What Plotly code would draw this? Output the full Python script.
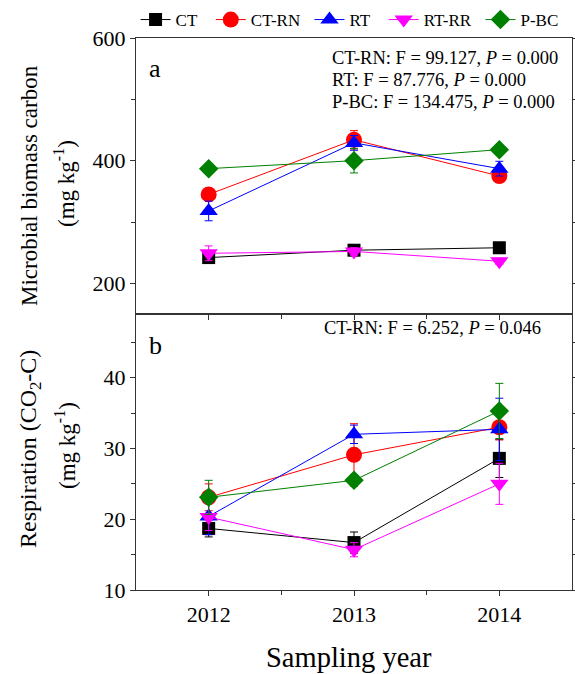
import plotly.graph_objects as go
from plotly.subplots import make_subplots

years = [2012, 2013, 2014]
series = ["CT", "CT-RN", "RT", "RT-RR", "P-BC"]
legend_pad = [2, 1, 2, 1, 0]
colors = ["#000000", "#ff0000", "#0000ff", "#ff00ff", "#008000"]
symbols = ["square", "circle", "triangle-up", "triangle-down", "diamond"]
sizes = [13, 16, 16, 16, 15]

mbc = {
    "CT": [242, 254, 258],
    "CT-RN": [345, 434, 375],
    "RT": [318, 429, 387],
    "RT-RR": [249, 252, 236],
    "P-BC": [387, 400, 418],
}
mbc_err = {
    "CT": [6, 8, 4],
    "CT-RN": [5, 15, 10],
    "RT": [16, 12, 12],
    "RT-RR": [12, 6, 5],
    "P-BC": [5, 20, 5],
}
resp = {
    "CT": [18.7, 16.7, 28.6],
    "CT-RN": [23.1, 29.1, 33.0],
    "RT": [20.4, 32.0, 32.7],
    "RT-RR": [20.3, 15.7, 25.0],
    "P-BC": [23.1, 25.5, 35.3],
}
resp_err = {
    "CT": [1.2, 1.5, 2.7],
    "CT-RN": [1.9, 4.4, 1.8],
    "RT": [2.6, 1.3, 4.4],
    "RT-RR": [1.9, 1.0, 2.9],
    "P-BC": [2.4, 0.8, 3.9],
}

FONT = "Liberation Serif, Times New Roman, serif"

fig = make_subplots(rows=2, cols=1, shared_xaxes=True, vertical_spacing=0)

for i, s in enumerate(series):
    label = s + "\u00a0" * legend_pad[i]
    for row, data, err in [(1, mbc, mbc_err), (2, resp, resp_err)]:
        fig.add_trace(go.Scatter(
            x=years, y=data[s], name=label, mode="lines+markers",
            line=dict(color=colors[i], width=1),
            marker=dict(symbol=symbols[i], size=sizes[i], color=colors[i]),
            error_y=dict(type="data", array=err[s], color=colors[i], thickness=1, width=4),
            showlegend=(row == 1), legendgroup=s,
        ), row=row, col=1)

axis_common = dict(showline=True, linecolor="#333", linewidth=1, mirror="allticks",
                   ticks="outside", ticklen=5, tickcolor="#333", showgrid=False, zeroline=False,
                   automargin=False,
                   tickfont=dict(family=FONT, size=22, color="#000"))

fig.update_yaxes(range=[150, 600], tickvals=[200, 400, 600],
                 minor=dict(tickvals=[300, 500], ticks="outside", ticklen=4, tickcolor="#333"),
                 row=1, col=1, **axis_common)
fig.update_yaxes(range=[10, 49], tickvals=[10, 20, 30, 40],
                 minor=dict(tickvals=[15, 25, 35, 45], ticks="outside", ticklen=4, tickcolor="#333"),
                 row=2, col=1, **axis_common)
fig.update_xaxes(range=[2011.5, 2014.5], tickvals=years, row=2, col=1,
                 minor=dict(tickvals=[2012.5, 2013.5], ticks="outside", ticklen=4, tickcolor="#333"),
                 **{**axis_common, "mirror": True})
fig.update_xaxes(range=[2011.5, 2014.5], tickvals=years, row=1, col=1, showline=True, linecolor="#333",
                 linewidth=1, mirror=True, ticks="outside", ticklen=5, tickcolor="#333",
                 minor=dict(tickvals=[2012.5, 2013.5], ticks="outside", ticklen=4, tickcolor="#333"),
                 showticklabels=False, showgrid=False, zeroline=False, automargin=False)

L, R, T, B = 136, 3, 38, 84
W, H = 575, 674
pw, ph = W - L - R, H - T - B


def px(x):
    return (x - L) / pw


def py(y):
    return (H - B - y) / ph


ann = []
ann.append(dict(text="a", x=px(155), y=py(68), font=dict(size=26)))
ann.append(dict(text="b", x=px(155), y=py(345), font=dict(size=26)))
for txt, yy in [("CT-RN: F = 99.127, <i>P</i> = 0.000", 58),
                ("RT: F = 87.776, <i>P</i> = 0.000", 80),
                ("P-BC: F = 134.475, <i>P</i> = 0.000", 102)]:
    ann.append(dict(text=txt, x=px(330), y=py(yy), xanchor="left", font=dict(size=18.5)))
ann.append(dict(text="CT-RN: F = 6.252, <i>P</i> = 0.046", x=px(322), y=py(328), xanchor="left",
                font=dict(size=18.5)))
ann.append(dict(text="Microbial biomass carbon", x=px(30), y=py(186), textangle=-90, font=dict(size=23)))
ann.append(dict(text="(mg kg<sup>-1</sup>)", x=px(65), y=py(184), textangle=-90, font=dict(size=23)))
ann.append(dict(text="Respiration (CO<sub>2</sub>-C)", x=px(30), y=py(449), textangle=-90,
                font=dict(size=24)))
ann.append(dict(text="(mg kg<sup>-1</sup>)", x=px(65), y=py(446), textangle=-90, font=dict(size=23)))
ann.append(dict(text="Sampling year", x=px(349), y=py(657), font=dict(size=28.5)))

for a in ann:
    a.setdefault("xanchor", "center")
    a["yanchor"] = "middle"
    a["xref"] = "paper"
    a["yref"] = "paper"
    a["showarrow"] = False
    a["font"] = dict(family=FONT, color="#000", **a["font"])

fig.update_layout(
    width=W, height=H, margin=dict(l=L, r=R, t=T, b=B, autoexpand=False),
    paper_bgcolor="white", plot_bgcolor="white",
    font=dict(family=FONT, color="#000"),
    annotations=ann,
    legend=dict(orientation="h", x=-0.001, y=py(2), xanchor="left", yanchor="top",
                font=dict(family=FONT, size=17), bgcolor="rgba(0,0,0,0)",
                itemwidth=30, tracegroupgap=0),
)

fig.write_html("out.html", config={"displayModeBar": False},
               post_script="document.body.style.margin='0';document.body.style.padding='0';")
